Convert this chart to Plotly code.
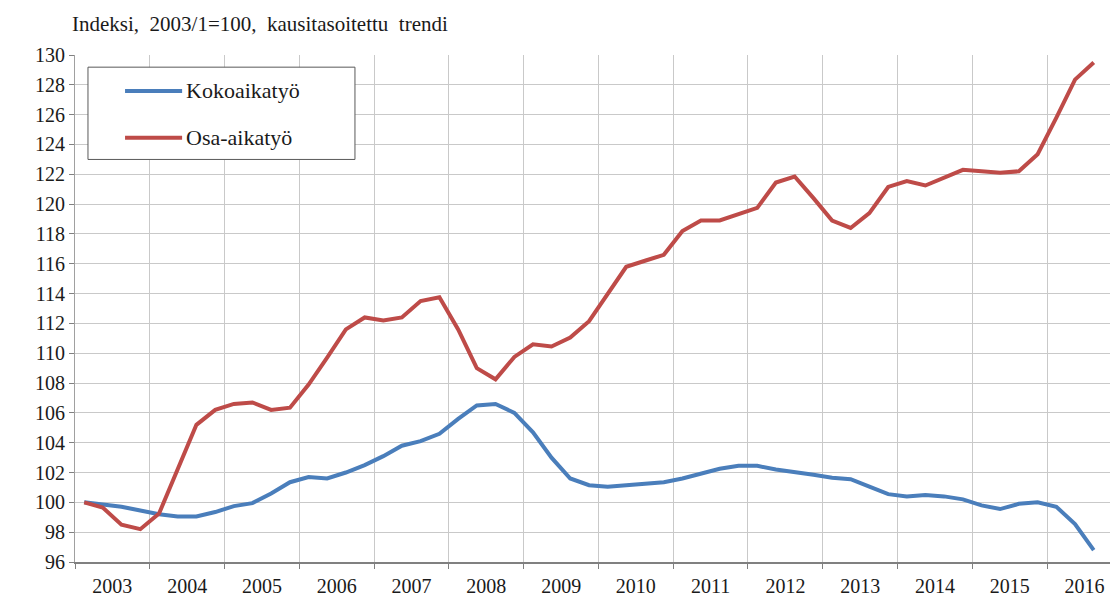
import pandas as pd
import plotly.graph_objects as go

# Data: quarterly index, 2003/1 = 100, seasonally adjusted trend
quarters = pd.period_range("2003Q1", "2016Q3", freq="Q")

kokoaikatyo = [
    100.0, 99.85, 99.7, 99.45,
    99.2, 99.05, 99.05, 99.35,
    99.75, 99.95, 100.6, 101.35,
    101.7, 101.6, 102.0, 102.5,
    103.1, 103.8, 104.1, 104.6,
    105.6, 106.5, 106.6, 106.0,
    104.7, 103.0, 101.6, 101.15,
    101.05, 101.15, 101.25, 101.35,
    101.6, 101.95, 102.25, 102.45,
    102.45, 102.2, 102.05, 101.85,
    101.65, 101.55, 101.05, 100.55,
    100.4, 100.5, 100.4, 100.2,
    99.8, 99.55, 99.9, 100.0,
    99.7, 98.55, 96.8,
]

osa_aikatyo = [
    100.0, 99.65, 98.5, 98.2,
    99.25, 102.2, 105.2, 106.2,
    106.6, 106.7, 106.2, 106.35,
    107.9, 109.7, 111.6, 112.4,
    112.2, 112.4, 113.5, 113.75,
    111.6, 109.0, 108.25, 109.75,
    110.6, 110.45, 111.05, 112.15,
    114.0, 115.8, 116.2, 116.6,
    118.2, 118.9, 118.9, 119.3,
    119.75, 121.45, 121.85, 120.4,
    118.9, 118.4, 119.4, 121.15,
    121.55, 121.25, 121.75, 122.3,
    122.2, 122.1, 122.2, 123.35,
    125.8, 128.35, 129.5,
]

series_names = ["Kokoaikatyö", "Osa-aikatyö"]
colors = ["#4A7EBB", "#BE4B48"]

# place each quarter in the middle of its period on a date axis
x = [q.start_time + (q.end_time - q.start_time) / 2 for q in quarters]

serif = "'Liberation Serif', 'DejaVu Serif', serif"
grid = "#c9c9c9"
txt = "#1a1a1a"

fig = go.Figure()
for name, vals, col in zip(series_names, [kokoaikatyo, osa_aikatyo], colors):
    fig.add_trace(go.Scatter(x=x, y=vals, mode="lines", name=name,
                             line=dict(color=col, width=4), showlegend=False))

fig.update_xaxes(
    type="date", range=["2003-01-01", "2017-01-01"],
    dtick="M12", tick0="2003-01-01", tickformat="%Y", ticklabelmode="period",
    showgrid=True, gridcolor=grid, gridwidth=1,
    ticks="outside", ticklen=5, tickcolor="#808080",
    showline=True, linecolor="#808080", linewidth=2,
    tickfont=dict(family=serif, size=20, color=txt),
)
fig.update_yaxes(
    range=[96, 130], dtick=2, tick0=96,
    showgrid=True, gridcolor=grid, gridwidth=1,
    ticks="outside", ticklen=5, tickcolor="#808080",
    showline=True, linecolor="#a0a0a0", linewidth=1, mirror=True,
    tickfont=dict(family=serif, size=20, color=txt),
    zeroline=False,
)

fig.add_annotation(text="Indeksi,  2003/1=100,  kausitasoitettu  trendi",
                   xref="paper", yref="paper", x=-0.005, y=1.062,
                   xanchor="left", yanchor="middle", showarrow=False,
                   font=dict(family=serif, size=21, color=txt))

# legend box drawn by hand to match the original's spacing
fig.add_shape(type="rect", xref="paper", yref="paper",
              x0=0.0124, x1=0.2674, y0=0.794, y1=0.976,
              line=dict(color="#595959", width=1), fillcolor="white", layer="above")
for i, (name, col) in enumerate(zip(series_names, colors)):
    yy = [0.929, 0.837][i]
    fig.add_shape(type="line", xref="paper", yref="paper",
                  x0=0.0478, x1=0.1023, y0=yy, y1=yy,
                  line=dict(color=col, width=4), layer="above")
    fig.add_annotation(text=name, xref="paper", yref="paper", x=0.1045, y=yy,
                       xanchor="left", yanchor="middle", showarrow=False,
                       font=dict(family=serif, size=22, color=txt))

fig.update_layout(
    width=1118, height=599,
    margin=dict(l=67, r=4, t=47, b=45),
    paper_bgcolor="white", plot_bgcolor="white",
    font=dict(family=serif, color=txt),
    showlegend=False,
)

fig.write_html("out.html")
